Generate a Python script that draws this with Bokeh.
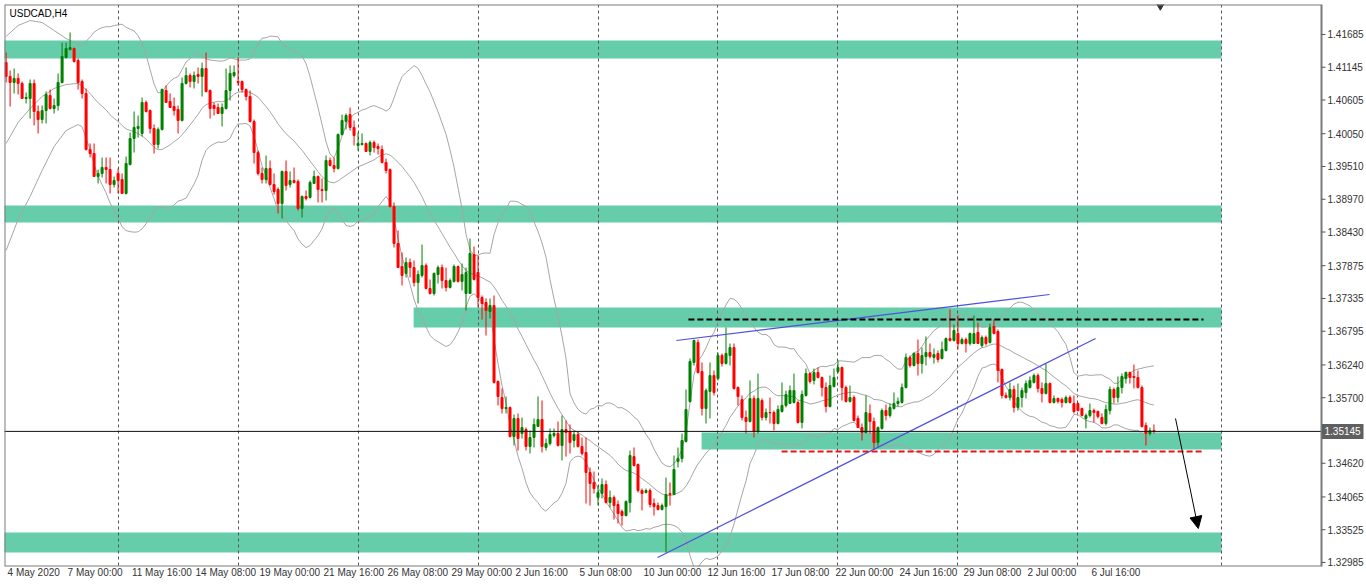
import numpy as np
from bokeh.plotting import figure
from bokeh.models import Range1d, FixedTicker, Label, Arrow, NormalHead
from bokeh.embed import file_html
from bokeh.resources import INLINE
from bokeh.core.properties import value

# ---------------- data ----------------
symbol_title = "USDCAD,H4"
last_price = 1.35145

opens = [
 1.41223,1.40993,1.40894,1.40960,1.40878,1.40630,1.40630,1.40878,1.40416,1.40284,
 1.40432,1.40680,1.40465,1.40515,1.40894,1.41306,1.41437,1.41454,1.41256,1.40910,
 1.40713,1.39790,1.39724,1.39345,1.39395,1.39493,1.39460,1.39213,1.39395,1.39296,
 1.39065,1.39543,1.39971,1.40136,1.40054,1.40564,1.40432,1.40136,1.39872,1.40120,
 1.40762,1.40581,1.40498,1.40449,1.40268,1.40878,1.41009,1.40910,1.41026,1.40993,
 1.41124,1.40762,1.40515,1.40482,1.40383,1.40465,1.40762,1.41009,1.40910,1.40910,
 1.40778,1.40663,1.40251,1.39740,1.39395,1.39296,1.39477,1.39213,1.39131,1.38900,
 1.39428,1.39213,1.39279,1.39263,1.38818,1.39016,1.38999,1.39230,1.39345,1.39131,
 1.39114,1.39609,1.39526,1.39477,1.40037,1.40251,1.40366,1.40153,1.39856,1.39872,
 1.39889,1.39757,1.39905,1.39839,1.39790,1.39576,1.39460,1.38851,1.38241,1.37862,
 1.37747,1.37928,1.37845,1.37598,1.37714,1.37878,1.37500,1.37417,1.37730,1.37845,
 1.37631,1.37516,1.37615,1.37862,1.37615,1.37417,1.37417,1.38060,1.37763,1.37351,
 1.37269,1.37120,1.37220,1.35967,1.35703,1.35522,1.35539,1.35061,1.35358,1.35111,
 1.35176,1.34896,1.35045,1.35226,1.35341,1.34880,1.34946,1.35078,1.35111,1.34913,
 1.35176,1.35143,1.34995,1.35094,1.34896,1.34797,1.34468,1.34303,1.34056,1.34122,
 1.34270,1.33973,1.34056,1.33940,1.33825,1.33759,1.33973,1.34731,1.34600,1.34171,
 1.34138,1.34171,1.33957,1.33924,1.33858,1.33907,1.34122,1.34105,1.34649,1.34698,
 1.34979,1.35638,1.36280,1.36610,1.36132,1.35522,1.35802,1.36066,1.36017,1.36396,
 1.36264,1.36396,1.36527,1.35868,1.35670,1.35374,1.35308,1.35687,1.35143,1.35654,
 1.35374,1.35456,1.35456,1.35275,1.35473,1.35572,1.35605,1.35621,1.35621,1.35292,
 1.35737,1.36099,1.35984,1.36115,1.36033,1.35868,1.35555,1.35885,1.36132,1.36198,
 1.35868,1.35638,1.35703,1.35358,1.35209,1.35127,1.35440,1.35308,1.34962,1.35193,
 1.35489,1.35407,1.35522,1.35605,1.35621,1.35868,1.36363,1.36231,1.36429,1.36264,
 1.36379,1.36445,1.36363,1.36429,1.36346,1.36478,1.36676,1.36643,1.36758,1.36593,
 1.36659,1.36593,1.36593,1.36775,1.36560,1.36692,1.36610,1.36874,1.36791,1.36165,
 1.35737,1.35703,1.35835,1.35539,1.35703,1.35786,1.35868,1.35951,1.36066,1.35852,
 1.35770,1.35934,1.35621,1.35687,1.35670,1.35621,1.35703,1.35605,1.35605,1.35522,
 1.35358,1.35407,1.35489,1.35473,1.35374,1.35275,1.35489,1.35835,1.35703,1.35868,
 1.36017,1.36115,1.36050,1.36033,1.35868,1.35242,1.35111,1.35160]

highs = [
 1.41388,1.41092,1.41124,1.41043,1.40910,1.40729,1.40943,1.40943,1.40515,1.40515,
 1.40746,1.40778,1.40630,1.41043,1.41553,1.41553,1.41718,1.41470,1.41289,1.40943,
 1.40795,1.39889,1.39889,1.39460,1.39658,1.39658,1.39658,1.39345,1.39477,1.39395,
 1.39674,1.40070,1.40416,1.40350,1.40647,1.40597,1.40449,1.40202,1.40153,1.40795,
 1.40845,1.40713,1.40647,1.40515,1.40976,1.41141,1.41043,1.41075,1.41141,1.41223,
 1.41388,1.40778,1.40564,1.40548,1.40548,1.41124,1.41174,1.41174,1.41306,1.40927,
 1.40795,1.40762,1.40284,1.39773,1.39493,1.39691,1.39609,1.39395,1.39164,1.39444,
 1.39609,1.39428,1.39493,1.39296,1.39032,1.39114,1.39279,1.39444,1.39361,1.39312,
 1.39691,1.39658,1.39658,1.40054,1.40366,1.40383,1.40482,1.40268,1.40070,1.40054,
 1.39905,1.39938,1.39938,1.39889,1.39856,1.39642,1.39477,1.38917,1.38455,1.38093,
 1.38011,1.37994,1.37961,1.37796,1.38224,1.37911,1.37648,1.37763,1.37878,1.37895,
 1.37845,1.37664,1.37895,1.37878,1.37911,1.37845,1.38323,1.38192,1.38044,1.37384,
 1.37335,1.37335,1.37384,1.35984,1.35852,1.35720,1.35555,1.35424,1.35440,1.35374,
 1.35209,1.35160,1.35358,1.35720,1.35654,1.35028,1.35193,1.35193,1.35308,1.35407,
 1.35325,1.35259,1.35160,1.35143,1.35045,1.35045,1.34550,1.34484,1.34254,1.34369,
 1.34336,1.34171,1.34089,1.34006,1.33858,1.34006,1.34830,1.34880,1.34616,1.34204,
 1.34204,1.34204,1.34039,1.33973,1.33957,1.34385,1.34303,1.34748,1.34880,1.35111,
 1.35835,1.36346,1.36659,1.36659,1.36280,1.35852,1.36280,1.36148,1.36445,1.36429,
 1.36857,1.36593,1.36593,1.35885,1.35737,1.35489,1.35984,1.35737,1.36099,1.35687,
 1.35522,1.35703,1.35489,1.35572,1.35951,1.35819,1.35901,1.36099,1.35654,1.35819,
 1.36181,1.36115,1.36181,1.36198,1.36050,1.35951,1.36066,1.36181,1.36313,1.36214,
 1.35901,1.35901,1.35737,1.35407,1.35275,1.35737,1.35588,1.35374,1.35226,1.35522,
 1.35588,1.35605,1.35786,1.35703,1.35934,1.36429,1.36396,1.36445,1.36659,1.36527,
 1.36709,1.36593,1.36511,1.36478,1.36626,1.36692,1.37154,1.36906,1.37055,1.36692,
 1.36692,1.36775,1.37055,1.36939,1.36725,1.36725,1.36923,1.36988,1.36824,1.36181,
 1.35786,1.35951,1.35901,1.35934,1.35868,1.35984,1.36050,1.36099,1.36099,1.35951,
 1.36264,1.35951,1.35737,1.35703,1.35703,1.35737,1.35737,1.35737,1.35621,1.35539,
 1.35440,1.35605,1.35522,1.35489,1.35440,1.35588,1.35885,1.35868,1.36050,1.36099,
 1.36132,1.36132,1.36247,1.36148,1.35901,1.35292,1.35209,1.35259]

lows = [
 1.40894,1.40498,1.40713,1.40696,1.40630,1.40548,1.40300,1.40186,1.40054,1.40219,
 1.40219,1.40449,1.40383,1.40432,1.40878,1.41289,1.41421,1.41223,1.40778,1.40630,
 1.39773,1.39658,1.39345,1.39230,1.39328,1.39230,1.39065,1.39164,1.39065,1.39065,
 1.39048,1.39526,1.39740,1.39987,1.40004,1.40399,1.40054,1.39724,1.39806,1.40103,
 1.40564,1.40482,1.40350,1.40054,1.40251,1.40861,1.40812,1.40795,1.40878,1.40663,
 1.40729,1.40300,1.40350,1.40383,1.40169,1.40449,1.40597,1.40976,1.40845,1.40729,
 1.40597,1.40235,1.39559,1.39361,1.39230,1.39230,1.39197,1.39048,1.38736,1.38653,
 1.39114,1.39164,1.39230,1.38785,1.38670,1.38950,1.38983,1.39230,1.38917,1.38917,
 1.38950,1.39510,1.39411,1.39460,1.40021,1.40120,1.40103,1.39856,1.39773,1.39856,
 1.39757,1.39691,1.39740,1.39707,1.39559,1.39395,1.38834,1.38175,1.37845,1.37549,
 1.37681,1.37681,1.37533,1.37253,1.37681,1.37483,1.37401,1.37384,1.37582,1.37500,
 1.37450,1.37500,1.37598,1.37598,1.37467,1.37137,1.37417,1.37631,1.37186,1.36988,
 1.36725,1.37005,1.35934,1.35572,1.35440,1.35440,1.35045,1.34913,1.34830,1.35028,
 1.34830,1.34781,1.34880,1.35226,1.34797,1.34830,1.34913,1.35045,1.34896,1.34666,
 1.34731,1.34781,1.34880,1.34880,1.34748,1.33957,1.33924,1.34122,1.33924,1.34039,
 1.33957,1.33891,1.33693,1.33627,1.33594,1.33743,1.33809,1.34567,1.34138,1.33842,
 1.34122,1.33891,1.33759,1.33842,1.33842,1.33150,1.33924,1.34105,1.34550,1.34633,
 1.34962,1.35621,1.36231,1.36099,1.35407,1.35275,1.35358,1.35737,1.35984,1.36214,
 1.36247,1.36231,1.35835,1.35572,1.35325,1.35111,1.35292,1.35045,1.35111,1.35325,
 1.35325,1.35275,1.35160,1.35259,1.35456,1.35539,1.35605,1.35605,1.35275,1.35193,
 1.35720,1.35934,1.35918,1.36017,1.35720,1.35456,1.35539,1.35868,1.36099,1.35654,
 1.35621,1.35621,1.35308,1.35209,1.34995,1.35111,1.35111,1.34847,1.34880,1.35176,
 1.35325,1.35374,1.35506,1.35555,1.35605,1.35852,1.36198,1.36214,1.36066,1.36099,
 1.36231,1.36346,1.36264,1.36280,1.36330,1.36462,1.36626,1.36626,1.36494,1.36577,
 1.36445,1.36560,1.36593,1.36593,1.36527,1.36560,1.36593,1.36742,1.35951,1.35687,
 1.35687,1.35654,1.35456,1.35489,1.35539,1.35687,1.35852,1.35934,1.35786,1.35621,
 1.35753,1.35605,1.35605,1.35605,1.35539,1.35605,1.35605,1.35440,1.35473,1.35391,
 1.35193,1.35374,1.35292,1.35358,1.35259,1.35242,1.35424,1.35605,1.35621,1.35770,
 1.35934,1.35934,1.35852,1.35852,1.35209,1.34913,1.35078,1.35111]

closes = [
 1.40993,1.40894,1.40960,1.40878,1.40630,1.40647,1.40878,1.40416,1.40284,1.40432,
 1.40696,1.40465,1.40515,1.40894,1.41322,1.41454,1.41470,1.41240,1.40894,1.40713,
 1.39790,1.39724,1.39345,1.39395,1.39493,1.39460,1.39213,1.39279,1.39279,1.39065,
 1.39559,1.39971,1.40153,1.40169,1.40564,1.40416,1.40136,1.39872,1.40120,1.40778,
 1.40564,1.40482,1.40432,1.40268,1.40878,1.41009,1.40910,1.41009,1.40993,1.41124,
 1.40746,1.40465,1.40465,1.40383,1.40482,1.40762,1.41043,1.41059,1.40894,1.40778,
 1.40663,1.40251,1.39740,1.39395,1.39296,1.39477,1.39213,1.39098,1.38900,1.39428,
 1.39197,1.39279,1.39246,1.38818,1.39016,1.38983,1.39246,1.39345,1.39131,1.39114,
 1.39609,1.39526,1.39477,1.40037,1.40268,1.40350,1.40153,1.40021,1.39889,1.39889,
 1.39757,1.39905,1.39823,1.39806,1.39576,1.39444,1.38851,1.38241,1.37845,1.37714,
 1.37928,1.37845,1.37598,1.37730,1.37878,1.37500,1.37417,1.37747,1.37845,1.37631,
 1.37516,1.37631,1.37862,1.37615,1.37730,1.37763,1.38077,1.37648,1.37351,1.37253,
 1.37137,1.37220,1.35951,1.35720,1.35522,1.35539,1.35061,1.35358,1.35028,1.35209,
 1.34896,1.35045,1.35259,1.35341,1.34896,1.34946,1.35094,1.35111,1.34913,1.35176,
 1.35127,1.34962,1.35094,1.34896,1.34781,1.34468,1.34287,1.34204,1.34138,1.34270,
 1.33973,1.34056,1.33924,1.33792,1.33759,1.33990,1.34748,1.34583,1.34171,1.34122,
 1.34171,1.33940,1.33907,1.33858,1.33924,1.34105,1.34105,1.34517,1.34698,1.34995,
 1.35506,1.36297,1.36643,1.36115,1.35522,1.35819,1.36066,1.35786,1.36396,1.36264,
 1.36429,1.36527,1.35852,1.35720,1.35374,1.35308,1.35687,1.35143,1.35687,1.35374,
 1.35456,1.35450,1.35275,1.35506,1.35572,1.35753,1.35819,1.35819,1.35292,1.35753,
 1.36099,1.35967,1.36115,1.36033,1.35868,1.35555,1.35901,1.36033,1.36198,1.35868,
 1.35638,1.35703,1.35325,1.35209,1.35127,1.35456,1.35308,1.34962,1.35209,1.35489,
 1.35407,1.35539,1.35605,1.35638,1.35868,1.36363,1.36231,1.36429,1.36264,1.36396,
 1.36445,1.36379,1.36412,1.36330,1.36494,1.36676,1.36643,1.36808,1.36593,1.36659,
 1.36593,1.36758,1.36758,1.36593,1.36692,1.36593,1.36857,1.36758,1.36148,1.35737,
 1.35703,1.35835,1.35539,1.35703,1.35819,1.35934,1.35984,1.36066,1.35852,1.35770,
 1.35934,1.35621,1.35687,1.35638,1.35621,1.35703,1.35621,1.35473,1.35489,1.35407,
 1.35407,1.35489,1.35456,1.35391,1.35275,1.35506,1.35835,1.35703,1.35868,1.36050,
 1.36115,1.36033,1.36033,1.35868,1.35226,1.35111,1.35160,1.35145]

# Bollinger band values visible before the indicator window is filled
bb_early_bars = [0, 3, 6, 9, 12, 15, 18]
bb_early_mid = [1.39889, 1.40235, 1.40465, 1.40663, 1.40795, 1.40861, 1.40878]
bb_early_up = [1.41652, 1.41833, 1.41915, 1.41882, 1.41751, 1.41619, 1.41520]
bb_early_lo = [1.38126, 1.38637, 1.39016, 1.39444, 1.39839, 1.40103, 1.40202]

date_labels = ["4 May 2020", "7 May 00:00", "11 May 16:00", "14 May 08:00", "19 May 00:00",
               "21 May 16:00", "26 May 08:00", "29 May 00:00", "2 Jun 16:00", "5 Jun 08:00",
               "10 Jun 00:00", "12 Jun 16:00", "17 Jun 08:00", "22 Jun 00:00", "24 Jun 16:00",
               "29 Jun 08:00", "2 Jul 00:00", "6 Jul 16:00"]
date_label_bars = [0, 15, 31, 47, 63, 79, 95, 111, 127, 143, 159, 175, 191, 207, 223, 239, 255, 271]

price_ticks = [1.41685, 1.41145, 1.40605, 1.40050, 1.39510, 1.38970, 1.38430, 1.37875,
               1.37335, 1.36795, 1.36240, 1.35700, 1.34620, 1.34065, 1.33525, 1.32985]

grid_bars = [28, 58, 88, 118, 148, 178, 208, 238, 268, 303.9]

zone_left = [-1.0, -1.0, 101.9, 173.9, -1.0]
zone_right = [303.9, 303.9, 303.9, 303.9, 303.9]
zone_top = [1.41586, 1.38867, 1.37186, 1.35127, 1.33479]
zone_bottom = [1.41289, 1.38587, 1.36857, 1.34847, 1.33150]

trend_x0 = [167.6, 162.9]
trend_y0 = [1.36643, 1.33068]
trend_x1 = [260.9, 272.4]
trend_y1 = [1.37401, 1.36676]

resist_level = 1.36988
resist_bars = [170.6, 299.4]
support_level = 1.34814
support_bars = [193.9, 299.4]

arrow_start = [292.4, 1.35358]
arrow_end = [298.1, 1.33545]
shift_marker = [288.6, 1.42160]

# ---------------- layout constants ----------------
FONT = "Liberation Sans"
X0, XF = -0.4, 328.9            # bar range shown in the chart window
Y0, Y1 = 1.32919, 1.42179       # price range shown in the chart window
CHART_W, CHART_H = 1317, 562    # chart window size in px
FULL_W = 1362                   # chart window + price scale strip
ppb = CHART_W / (XF - X0)       # px per bar
ppp = (Y1 - Y0) / CHART_H       # price per px
XR = X0 + FULL_W / ppb

p = figure(width=1366, height=588, x_range=Range1d(X0, XR), y_range=Range1d(Y0, Y1),
           y_axis_location=None, output_backend="svg", toolbar_location=None,
           min_border_left=4, min_border_top=4, min_border_right=0, min_border_bottom=22,
           background_fill_color="white", border_fill_color="white",
           outline_line_color=None)
p.xgrid.grid_line_color = None
p.ygrid.grid_line_color = None

# zones
p.quad(left=zone_left, right=zone_right, top=zone_top, bottom=zone_bottom,
       fill_color="#66CDAA", line_color=None)

# vertical grid
p.vspan(x=grid_bars, line_color="#555555", line_width=1, line_dash="3 3")

# bollinger bands (20, 2) computed from closes
cl = np.array(closes)
n = len(cl)
bx, bm, bu, bl = list(bb_early_bars), list(bb_early_mid), list(bb_early_up), list(bb_early_lo)
for i in range(19, n):
    w = cl[i - 19:i + 1]
    m = w.mean()
    s = w.std()
    bx.append(i); bm.append(m); bu.append(m + 2 * s); bl.append(m - 2 * s)
for ys in (bu, bm, bl):
    p.line(bx, ys, line_color="#a6a6a6", line_width=1)

# candles
idx = list(range(n))
tops = [max(o, c) for o, c in zip(opens, closes)]
bots = [min(o, c) for o, c in zip(opens, closes)]
cols = ["#ff0000" if c < o else "#008000" for o, c in zip(opens, closes)]
p.segment(x0=idx, y0=lows, x1=idx, y1=highs, line_color=cols, line_width=1)
p.vbar(x=idx, top=tops, bottom=bots, width=0.5, fill_color=cols, line_color=cols, line_width=1)

# trend lines
p.segment(x0=trend_x0, y0=trend_y0, x1=trend_x1, y1=trend_y1, line_color="#5050dc", line_width=1.2)
p.line(resist_bars, [resist_level, resist_level], line_color="black", line_width=2, line_dash="6 3")
p.line(support_bars, [support_level, support_level], line_color="#e8141e", line_width=2, line_dash="6 3")

# bid line across the chart window
p.segment(x0=[X0 - 1], x1=[XF], y0=[last_price], y1=[last_price], line_color="#111111", line_width=1)

# arrow + chart-shift marker
p.add_layout(Arrow(end=NormalHead(size=12, fill_color="black", line_color="black"),
                   x_start=arrow_start[0], y_start=arrow_start[1],
                   x_end=arrow_end[0], y_end=arrow_end[1], line_color="black", line_width=1))
p.scatter([shift_marker[0]], [shift_marker[1]], marker="inverted_triangle", size=8,
          fill_color="#333333", line_color="#333333")

# chart window border
p.line([X0, XF, XF, X0], [Y1, Y1, Y0, Y0], line_color="#7a7a7a", line_width=2)
p.line([X0, X0], [Y0, Y1], line_color="#7a7a7a", line_width=2)
p.line([XF, XF], [Y0, Y1], line_color="#7a7a7a", line_width=1)

# price scale (right)
tick_len = 4 / ppb
p.segment(x0=[XF] * len(price_ticks), x1=[XF + tick_len] * len(price_ticks),
          y0=price_ticks, y1=price_ticks, line_color="#555555", line_width=1)
p.text(x=[XF + 6 / ppb] * len(price_ticks), y=price_ticks,
       text=[f"{t:.5f}" for t in price_ticks],
       text_font=value(FONT), text_font_size="10px", text_color="#333333",
       text_baseline="middle", text_align="left")

# current price tag
p.quad(left=[XF + 0.5 / ppb], right=[XF + 42 / ppb],
       top=[last_price + 7.5 * ppp], bottom=[last_price - 7.5 * ppp],
       fill_color="#5f5f5f", line_color=None)
p.text(x=[XF + 3 / ppb], y=[last_price], text=[f"{last_price:.5f}"],
       text_font=value(FONT), text_font_size="10px", text_color="white",
       text_baseline="middle", text_align="left")

# symbol label
p.add_layout(Label(x=X0, y=Y1, x_offset=5, y_offset=-3, text=symbol_title,
                   text_font=FONT, text_font_size="10px", text_color="black",
                   text_baseline="top", text_align="left"))

# time axis: MT4 labels start at their bar, so centre each label half its width to the right
cw = {" ": 2.78, ":": 2.78, "M": 8.33, "a": 5.56, "y": 5.0, "J": 5.0, "u": 5.56, "n": 5.56, "l": 2.22}
tick_pos, overrides = [], {}
for lab, b in zip(date_labels, date_label_bars):
    w = sum(cw.get(ch, 5.56) for ch in lab)
    t = round(b + (w / 2 + 1.5) / ppb, 3)
    tick_pos.append(t)
    overrides[t] = lab
p.xaxis.ticker = FixedTicker(ticks=tick_pos)
p.xaxis.major_label_overrides = overrides
p.xaxis.major_label_text_font = FONT
p.xaxis.major_label_text_font_size = "10px"
p.xaxis.major_label_text_color = "#333333"
p.xaxis.major_tick_line_color = None
p.xaxis.major_tick_out = 0
p.xaxis.major_tick_in = 0
p.xaxis.minor_tick_line_color = None
p.xaxis.axis_line_color = None
p.xaxis.major_label_standoff = 0

open("out.html", "w").write(file_html(p, INLINE))
